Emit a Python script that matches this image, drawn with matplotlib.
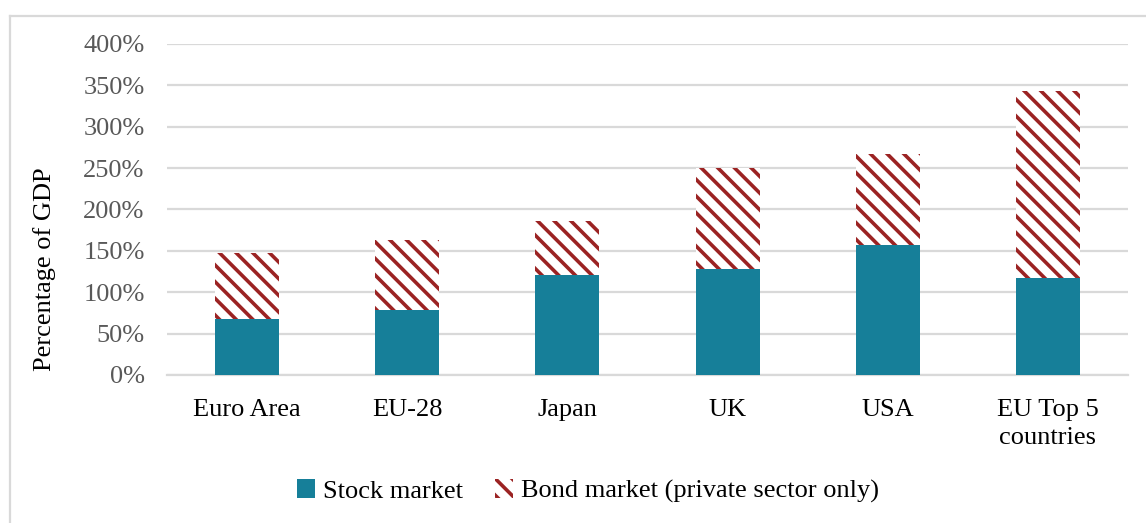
import matplotlib.pyplot as plt
from matplotlib.patches import Patch
from matplotlib.lines import Line2D
from matplotlib.ticker import FuncFormatter

# data (% of GDP)
categories = ['Euro Area', 'EU-28', 'Japan', 'UK', 'USA', 'EU Top 5\ncountries']
stock_market = [68, 78, 121, 128, 157, 117]
bond_market = [80, 85, 65, 122, 110, 226]
y_ticks = [0, 50, 100, 150, 200, 250, 300, 350, 400]

TEAL = '#167F99'
DARK_RED = '#9B2323'
GRID = '#D9D9D9'

plt.rcParams['font.family'] = ['Liberation Serif', 'DejaVu Serif']
plt.rcParams['hatch.linewidth'] = 2.6

fig = plt.figure(figsize=(11.46, 5.23), dpi=100)
ax = fig.add_axes([0.1457, 0.283, 0.8386, 0.6329])

x = range(len(categories))
ax.bar(x, stock_market, width=0.4, color=TEAL, linewidth=0, zorder=3)
ax.bar(x, bond_market, width=0.4, bottom=stock_market, color='white',
       edgecolor=DARK_RED, hatch='\\\\', linewidth=0, zorder=3)

ax.set_xlim(-0.5, len(categories) - 0.5)
ax.set_ylim(0, 400)
ax.set_yticks(y_ticks)
ax.yaxis.set_major_formatter(FuncFormatter(lambda v, _: f'{v:.0f}%'))
ax.set_xticks(list(x))
ax.set_xticklabels(categories, fontsize=19, color='black', linespacing=1.35)
ax.tick_params(axis='y', length=0, pad=16, labelsize=19, labelcolor='#595959')
ax.tick_params(axis='x', length=0, pad=17)

ax.grid(axis='y', color=GRID, linewidth=1.6, zorder=0)
for side in ['top', 'right', 'left']:
    ax.spines[side].set_visible(False)
ax.spines['bottom'].set_color(GRID)
ax.spines['bottom'].set_linewidth(1.6)

ax.set_ylabel('Percentage of GDP', fontsize=19, color='black')
ax.yaxis.set_label_coords(-0.1155, 0.32)

# legend at the bottom
handles = [Patch(facecolor=TEAL, linewidth=0),
           Patch(facecolor='white', edgecolor=DARK_RED, hatch='\\\\', linewidth=0)]
fig.legend(handles, ['Stock market', 'Bond market (private sector only)'],
           loc='center', bbox_to_anchor=(0.513, 0.061), ncol=2, frameon=False,
           fontsize=19, handlelength=0.7, handleheight=0.7, handletextpad=0.3,
           columnspacing=1.2)

# outer chart frame (left and top edges visible)
fig.add_artist(Line2D([10 / 1146, 10 / 1146], [0, 1 - 16 / 523],
                      transform=fig.transFigure, color=GRID, linewidth=1.6))
fig.add_artist(Line2D([10 / 1146, 1], [1 - 16 / 523, 1 - 16 / 523],
                      transform=fig.transFigure, color=GRID, linewidth=1.6))

fig.savefig('out.png', dpi=100)
